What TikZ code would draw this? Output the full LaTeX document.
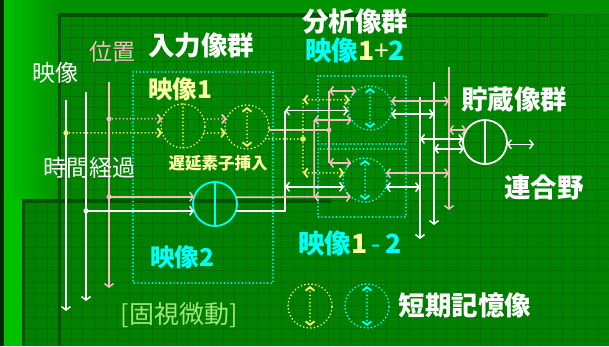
\documentclass[tikz,border=0pt]{standalone}
\usepackage{fontspec}
\usetikzlibrary{arrows.meta}
\newfontfamily\jp{Noto Sans CJK JP}
\newfontfamily\jpk{Noto Sans CJK JP Black}
\definecolor{bgA}{RGB}{0,145,0}
\definecolor{bgP1}{RGB}{0,134,0}
\definecolor{bgP2}{RGB}{0,128,0}
\definecolor{gridc}{RGB}{0,110,0}
\definecolor{edgec}{RGB}{0,82,0}
\definecolor{stripc}{RGB}{0,192,0}
\definecolor{pinkc}{RGB}{245,190,190}
\definecolor{yelc}{RGB}{240,240,110}
\definecolor{yeltext}{RGB}{255,255,165}
\definecolor{cyanc}{RGB}{0,255,255}
\definecolor{lgreen}{RGB}{160,232,120}
\begin{document}
\begin{tikzpicture}[x=1pt,y=-1pt,
  arr/.style={-{Straight Barb[length=3.5pt,width=9pt]}},
  darr/.style={{Straight Barb[length=3.5pt,width=9pt]}-{Straight Barb[length=3.5pt,width=9pt]}},
  wl/.style={draw=white,line width=1.5pt},
  pl/.style={draw=pinkc,line width=1.5pt},
  dotl/.style={line width=1.9pt,line cap=round,dash pattern=on 0pt off 3.6pt},
  yd/.style={draw=yelc,dotl},
  cd/.style={draw=cyanc,dotl},
  pd/.style={draw=pinkc,dotl},
  circ/.style={circle,minimum size=44pt,inner sep=0pt,outer sep=0pt},
  gline/.style={draw=gridc,line width=0.6pt},
  big/.style={inner sep=0pt,font=\jpk\fontsize{26.5}{26.5}\selectfont},
  mid/.style={inner sep=0pt,font=\jpk\fontsize{24.5}{24.5}\selectfont},
  small/.style={inner sep=0pt,font=\jpk\fontsize{16.5}{16.5}\selectfont},
  reg/.style={inner sep=0pt,font=\jp\fontsize{23}{23}\selectfont}]
\useasboundingbox (0,0) rectangle (609,346);
% background
\fill[bgA] (0,0) rectangle (609,346);
\shade[left color=stripc,right color=bgA] (4,0) rectangle (59,200);
\fill[stripc] (4,200) rectangle (24,346);
\fill[black!85!green] (0,0) rectangle (4,346);
\fill[bgP1] (59,14) rectangle (609,200);
\fill[bgP2] (24,200) rectangle (609,346);
\foreach \i in {0,...,47} {\draw[gline] ({59+11.7*\i},14) -- ({59+11.7*\i},200);}
\foreach \j in {0,...,15} {\draw[gline] (59,{14+11.7*\j}) -- (609,{14+11.7*\j});}
\foreach \i in {0,...,50} {\draw[gline] ({24+11.7*\i},200) -- ({24+11.7*\i},346);}
\foreach \j in {0,...,12} {\draw[gline] (24,{200+11.7*\j}) -- (609,{200+11.7*\j});}
\fill[edgec] (59,13) rectangle (548,16.5);
\fill[edgec] (58,14) rectangle (61,346);
\fill[edgec] (22,199) rectangle (331,203);
\fill[edgec] (22,199) rectangle (25,346);
% boxes
\draw[cd] (133,72) rectangle (273,283);
\draw[cd] (318,76) rectangle (406,144);
\draw[cd] (318,149) rectangle (406,217);
% circles
\node[circ,yd] (Y1) at (183,126) {};
\node[circ,yd] (Y2) at (247,127) {};
\node[circ,draw=cyanc,line width=1.8pt] (C2) at (215,204) {};
\node[circ,cd] (U) at (370,108) {};
\node[circ,cd] (L) at (365,180) {};
\node[circ,draw=white,line width=1.8pt] (S) at (485,142) {};
\node[circ,yd] (LY) at (310,306) {};
\node[circ,cd] (LC) at (367,306) {};
\draw[yd] (Y1.north) -- (Y1.south);
\draw[yd,darr] ([yshift=-2pt]Y2.north) -- ([yshift=2pt]Y2.south);
\draw[draw=cyanc,line width=1.6pt] (C2.north) -- (C2.south);
\draw[cd,darr] ([yshift=-2pt]U.north) -- ([yshift=2pt]U.south);
\draw[cd,darr] ([yshift=-2pt]L.north) -- ([yshift=2pt]L.south);
\draw[draw=white,line width=1.6pt] (S.north) -- (S.south);
\draw[yd,darr] ([yshift=-2pt]LY.north) -- ([yshift=2pt]LY.south);
\draw[cd,darr] ([yshift=-2pt]LC.north) -- ([yshift=2pt]LC.south);
% left verticals
\coordinate (wAt) at (66,100); \coordinate (wAb) at (66,311);
\coordinate (wBt) at (86,92);  \coordinate (wBb) at (86,301);
\coordinate (pCt) at (109,82); \coordinate (pCb) at (109,288);
\draw[wl,arr] (wAt) -- (wAb);
\draw[wl,arr] (wBt) -- (wBb);
\draw[pl,arr] (pCt) -- (pCb);
% inputs to image 1
\coordinate (yd1) at (Y1.198.6 -| wAt);
\coordinate (pd1) at (Y1.161.4 -| pCt);
\draw[yd,arr] (yd1) -- (Y1.198.6);
\draw[pd,arr] (pd1) -- (Y1.161.4);
\fill[yelc] (yd1) circle (2.6pt);
\fill[pinkc] (pd1) circle (2.6pt);
\draw[pd,arr] (Y1.18.6) -- (Y2.158.7);
\draw[yd,arr] (Y1.341.4) -- (Y2.195.8);
% inputs to image 2
\coordinate (pd2) at (C2.161.4 -| pCt);
\coordinate (wd2) at (C2.198.6 -| wBt);
\draw[pl,arr] (pd2) -- (C2.161.4);
\draw[wl,arr] (wd2) -- (C2.198.6);
\fill[pinkc] (pd2) circle (2.6pt);
\fill[white] (wd2) circle (2.6pt);
% analysis connections
\coordinate (pDx) at (329,0); \coordinate (yDx) at (303,0);
\coordinate (wHx) at (285,0); \coordinate (pHx) at (314,0);
\coordinate (pD1) at (U.129.4 -| pDx); \coordinate (pD2) at (L.129.4 -| pDx);
\draw[pl] (pD1) -- (pD2);
\draw[pl,darr] (pD1) -- (U.129.4);
\draw[pl,darr] (pD2) -- (L.129.4);
\coordinate (pd3) at (Y2.352.2 -| pDx);
\draw[pl] (Y2.352.2) -- (pd3);
\fill[pinkc] (pd3) circle (2.4pt);
\coordinate (yD1) at (U.158.7 -| yDx); \coordinate (yD2) at (L.161.4 -| yDx);
\draw[yd] (yD1) -- (yD2);
\draw[yd,darr] (yD1) -- (U.158.7);
\draw[yd,darr] (yD2) -- (L.161.4);
\coordinate (yd3) at (Y2.327 -| yDx);
\draw[yd] (Y2.327) -- (yd3);
\fill[yelc] (yd3) circle (2.8pt);
\coordinate (wH1) at (U.187.8 -| wHx); \coordinate (wH2) at (L.198.6 -| wHx);
\coordinate (wHb) at (C2.341.4 -| wHx);
\draw[wl] (C2.341.4) -- (wHb) -- (wH1);
\draw[wl,darr] (wH1) -- (U.187.8);
\draw[wl,darr] (wH2) -- (L.198.6);
\coordinate (pH1) at (U.213 -| pHx); \coordinate (pH2) at (L.230.6 -| pHx);
\draw[pl] (C2.18.6) -- (pH2) -- (pH1);
\draw[pl,darr] (pH1) -- (U.213);
\draw[pl,darr] (pH2) -- (L.230.6);
% right side
\coordinate (pEt) at (449,67); \coordinate (pEb) at (449,210);
\coordinate (wFt) at (434,82); \coordinate (wFb) at (434,225);
\coordinate (wGt) at (420,97); \coordinate (wGb) at (420,239);
\draw[pl,arr] (pEt) -- (pEb);
\draw[wl,arr] (wFt) -- (wFb);
\draw[wl,arr] (wGt) -- (wGb);
\draw[pl,darr] (U.18.6) -- (U.18.6 -| pEt);
\draw[wl,darr] (U.344.2) -- (U.344.2 -| wFt);
\draw[pl,darr] (L.18.6) -- (L.18.6 -| pEt);
\draw[wl,darr] (L.341.4) -- (L.341.4 -| wGt);
\draw[pl,darr] (S.147 -| pEt) -- (S.147);
\draw[wl,darr] (S.172.2 -| wGt) -- (S.172.2);
\draw[wl,darr] (S.198.6 -| wFt) -- (S.198.6);
\coordinate (sOut) at (534,144);
\draw[wl,darr] (S.354.8) -- (S.354.8 -| sOut);
% texts
\node[reg,text=white] (tEi) at (55,73) {映像};
\node[reg,text=pinkc] (tPos) at (112,52) {位置};
\node[reg,text=white] (tTm) at (89,168) {時間経過};
\node[reg,text=lgreen,font=\jp\fontsize{25}{25}\selectfont] (tFx) at (179,315) {[固視微動]};
\node[big,text=white] (tIn) at (201,45) {入力像群};
\node[big,text=white] (tAn) at (355,22) {分析像群};
\node[big] (tAn12) at (355,50) {\textcolor{cyanc}{映像}\textcolor{yeltext}{1}\textcolor{yeltext!60!white}{\jp +}\textcolor{cyanc}{2}};
\node[big,text=white] (tSt) at (514,99) {貯蔵像群};
\node[big,text=white] (tAs) at (544,187) {連合野};
\node[big,text=white] (tSm) at (465,305) {短期記憶像};
\node[mid,text=yeltext] (tI1) at (180,89) {映像1};
\node[mid,text=cyanc] (tI2) at (182,257) {映像2};
\node[big] (tAd) at (350,243) {\textcolor{cyanc}{映像}\textcolor{yeltext}{1}\textcolor{cyanc}{\jp\,-\,}\textcolor{cyanc}{2}};
\node[small,text=yeltext] (tDl) at (218,163) {遅延素子挿入};
\end{tikzpicture}
\end{document}
